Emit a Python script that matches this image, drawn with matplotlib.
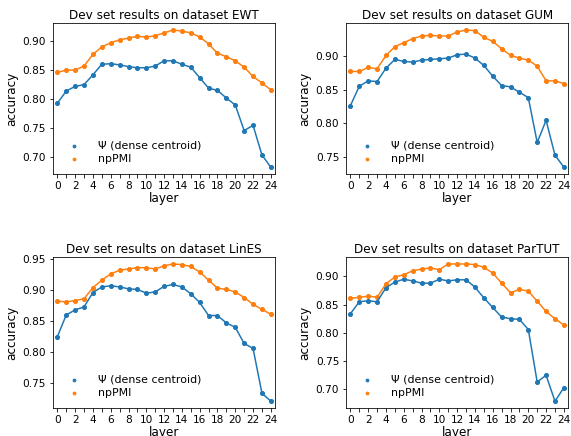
import matplotlib
matplotlib.use('Agg')
import matplotlib.pyplot as plt

layers = list(range(25))

datasets = ['EWT', 'GUM', 'LinES', 'ParTUT']

ewt_psi = [0.793, 0.814, 0.822, 0.825, 0.842, 0.860, 0.861, 0.859, 0.856, 0.854, 0.854, 0.857, 0.866,
           0.866, 0.860, 0.855, 0.837, 0.819, 0.815, 0.802, 0.790, 0.746, 0.755, 0.704, 0.683]
ewt_pmi = [0.846, 0.850, 0.850, 0.857, 0.877, 0.890, 0.897, 0.902, 0.905, 0.908, 0.907, 0.909, 0.914,
           0.919, 0.917, 0.914, 0.907, 0.895, 0.879, 0.873, 0.866, 0.855, 0.839, 0.828, 0.816]

gum_psi = [0.826, 0.855, 0.863, 0.862, 0.882, 0.895, 0.892, 0.891, 0.894, 0.895, 0.896, 0.897, 0.902,
           0.903, 0.897, 0.886, 0.870, 0.856, 0.854, 0.846, 0.838, 0.771, 0.804, 0.752, 0.734]
gum_pmi = [0.877, 0.877, 0.883, 0.881, 0.901, 0.914, 0.920, 0.926, 0.930, 0.931, 0.930, 0.930, 0.936,
           0.939, 0.938, 0.928, 0.922, 0.911, 0.901, 0.897, 0.894, 0.885, 0.863, 0.863, 0.859]

lines_psi = [0.825, 0.860, 0.868, 0.873, 0.896, 0.905, 0.907, 0.905, 0.902, 0.901, 0.895, 0.897, 0.906,
             0.909, 0.905, 0.894, 0.880, 0.859, 0.859, 0.847, 0.840, 0.814, 0.806, 0.734, 0.721]
lines_pmi = [0.882, 0.881, 0.883, 0.886, 0.904, 0.916, 0.926, 0.932, 0.934, 0.936, 0.936, 0.934, 0.939,
             0.942, 0.941, 0.938, 0.929, 0.916, 0.903, 0.901, 0.897, 0.888, 0.877, 0.869, 0.861]

partut_psi = [0.834, 0.855, 0.857, 0.855, 0.880, 0.890, 0.895, 0.892, 0.888, 0.888, 0.895, 0.892, 0.894,
              0.894, 0.881, 0.862, 0.845, 0.828, 0.825, 0.824, 0.806, 0.713, 0.725, 0.679, 0.703]
partut_pmi = [0.861, 0.863, 0.865, 0.863, 0.887, 0.899, 0.903, 0.910, 0.913, 0.915, 0.912, 0.922, 0.922,
              0.922, 0.921, 0.916, 0.906, 0.888, 0.871, 0.877, 0.874, 0.856, 0.838, 0.825, 0.814]

psi_vals = [ewt_psi, gum_psi, lines_psi, partut_psi]
pmi_vals = [ewt_pmi, gum_pmi, lines_pmi, partut_pmi]

fig, axes = plt.subplots(2, 2, figsize=(571 / 72, 436 / 72), dpi=72)
fig.subplots_adjust(left=0.093, right=0.995, top=0.947, bottom=0.064, wspace=0.32, hspace=0.55)

for ax, name, psi, pmi in zip(axes.flat, datasets, psi_vals, pmi_vals):
    ax.plot(layers, psi, color='C0', lw=1.5)
    ax.scatter(layers, psi, color='C0', s=16, label='Ψ (dense centroid)')
    ax.plot(layers, pmi, color='C1', lw=1.5)
    ax.scatter(layers, pmi, color='C1', s=16, label='npPMI')
    ax.margins(x=0.02)
    ax.set_xticks(layers)
    ax.set_xticklabels([str(i) if i % 2 == 0 else '' for i in layers])
    ax.tick_params(labelsize=10.5)
    ax.set_xlabel('layer', fontsize=12, labelpad=1)
    ax.set_ylabel('accuracy', fontsize=12)
    ax.set_title('Dev set results on dataset ' + name, fontsize=12, pad=4)
    ax.legend(loc='lower left', frameon=False, fontsize=11, markerscale=0.7,
              labelspacing=0.3, handletextpad=1.2)

fig.savefig('out.png', dpi=72)
